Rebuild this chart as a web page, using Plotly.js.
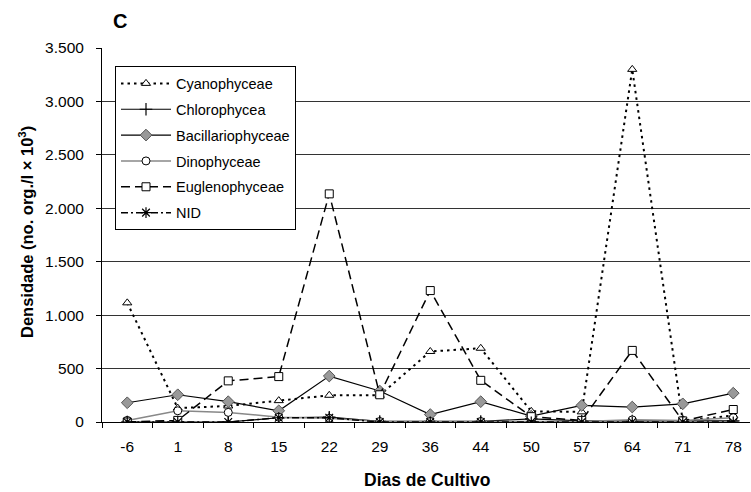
<!DOCTYPE html>
<html>
<head>
<meta charset="utf-8">
<script src="https://cdn.plot.ly/plotly-3.0.1.min.js"></script>
<style>html,body{margin:0;padding:0;overflow:hidden;background:#fff}</style>
</head>
<body>
<div id="chart" style="width:751px;height:492px"></div>
<script>
var days = ['-6','1','8','15','22','29','36','44','50','57','64','71','78'];
var cyanophyceae = [1115, 130, 150, 200, 250, 250, 660, 690, 100, 95, 3300, 10, 60];
var chlorophycea = [0, 0, 0, 40, 45, 5, 5, 5, 30, 10, 10, 10, 10];
var bacillariophyceae = [180, 255, 190, 105, 430, 290, 70, 190, 55, 155, 140, 170, 270];
var dinophyceae = [15, 105, 90, 45, 35, 5, 5, 5, 5, 5, 20, 15, 40];
var euglenophyceae = [0, 15, 385, 425, 2135, 255, 1230, 390, 50, 15, 670, 10, 117];
var nid = [0, 0, 0, 40, 40, 0, 0, 0, 0, 0, 0, 0, 0];

var FONT = 'Liberation Sans, Arial, sans-serif';
var traces = [
  {name:'Cyanophyceae', y:cyanophyceae, line:{color:'#000', width:2, dash:'2.5px,4px'},
   marker:{symbol:'triangle-up', size:8, color:'#fff', line:{color:'#000', width:1}}},
  {name:'Chlorophycea', y:chlorophycea, line:{color:'#000', width:1.2},
   marker:{symbol:'cross-thin-open', size:9, color:'#000', line:{color:'#000', width:1.2}}},
  {name:'Bacillariophyceae', y:bacillariophyceae, line:{color:'#000', width:1.2},
   marker:{symbol:'diamond', size:9, color:'#999', line:{color:'#555', width:1}}},
  {name:'Dinophyceae', y:dinophyceae, line:{color:'#888', width:1.5},
   marker:{symbol:'circle', size:8, color:'#fff', line:{color:'#000', width:1}}},
  {name:'Euglenophyceae', y:euglenophyceae, line:{color:'#000', width:1.5, dash:'9px,5px'},
   marker:{symbol:'square', size:8, color:'#fff', line:{color:'#000', width:1}}},
  {name:'NID', y:nid, line:{color:'#000', width:1.5, dash:'7px,3px,2px,3px'},
   marker:{symbol:'asterisk-open', size:9, color:'#000', line:{color:'#000', width:1.2}}}
];
traces.forEach(function(t, i){
  t.x = days; t.type = 'scatter'; t.mode = 'lines+markers'; t.legendgroup = 'g' + i;
});

var pl = 102, pr = 750, pt = 47.5, pb = 422.5;
function px(x){ return (x - pl) / (pr - pl); }
function py(y){ return (pb - y) / (pb - pt); }

var layout = {
  width: 751, height: 492,
  margin: {l: pl, r: 751 - pr, t: pt, b: 492 - pb},
  paper_bgcolor: '#fff', plot_bgcolor: '#fff',
  separators: ',.',
  showlegend: true,
  font: {family: FONT, color: '#000', size: 15},
  xaxis: {
    type: 'category', range: [-0.5, -0.5 + (pr - pl) / 50.5],
    showline: true, linecolor: '#000', linewidth: 1,
    ticks: 'outside', tickson: 'boundaries', ticklen: 5, tickcolor: '#000',
    showgrid: false, zeroline: false,
    tickfont: {family: FONT, size: 15.5, color: '#000'}, ticklabelstandoff: 10
  },
  yaxis: {
    range: [0, 3500], dtick: 500, tickformat: ',d',
    showline: true, linecolor: '#000', linewidth: 1,
    ticks: 'outside', ticklen: 5, tickcolor: '#000',
    showgrid: true, gridcolor: '#333', gridwidth: 1, zeroline: false,
    tickfont: {family: FONT, size: 15.5, color: '#000'}, ticklabelstandoff: 9
  },
  legend: {
    x: px(115), y: py(66), xanchor: 'left', yanchor: 'top',
    bgcolor: '#fff', bordercolor: '#000', borderwidth: 1,
    font: {family: FONT, size: 14.5, color: '#000'},
    traceorder: 'grouped', tracegroupgap: 4, itemwidth: 50
  },
  annotations: [
    {text: '<b>C</b>', xref: 'paper', yref: 'paper', x: px(120), y: py(20.7),
     xanchor: 'center', yanchor: 'middle', showarrow: false, font: {family: FONT, size: 20}},
    {text: '<b>Dias de Cultivo</b>', xref: 'paper', yref: 'paper', x: px(427), y: py(481),
     xanchor: 'center', yanchor: 'middle', showarrow: false, font: {family: FONT, size: 17.5}},
    {text: '<b>Densidade (no. org./l × 10<sup>3</sup>)</b>', xref: 'paper', yref: 'paper',
     x: px(26), y: py(232), textangle: -90,
     xanchor: 'center', yanchor: 'middle', showarrow: false, font: {family: FONT, size: 16.5}}
  ]
};

Plotly.newPlot('chart', traces, layout, {displayModeBar: false, staticPlot: true});
</script>
</body>
</html>
